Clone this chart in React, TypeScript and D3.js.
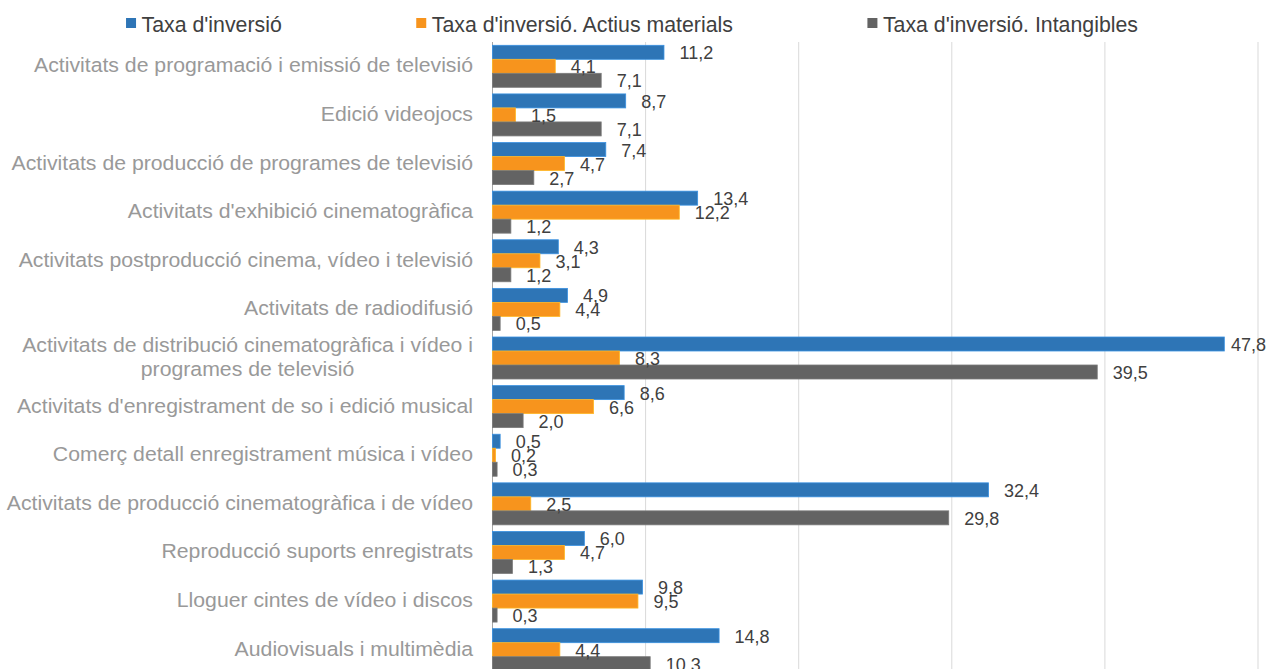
import React, { useEffect, useRef } from 'react';
import * as d3 from 'd3';

const categories = [
  'Activitats de programació i emissió de televisió',
  'Edició videojocs',
  'Activitats de producció de programes de televisió',
  "Activitats d'exhibició cinematogràfica",
  'Activitats postproducció cinema, vídeo i televisió',
  'Activitats de radiodifusió',
  'Activitats de distribució cinematogràfica i vídeo i\nprogrames de televisió',
  "Activitats d'enregistrament de so i edició musical",
  'Comerç detall enregistrament música i vídeo',
  'Activitats de producció cinematogràfica i de vídeo',
  'Reproducció suports enregistrats',
  'Lloguer cintes de vídeo i discos',
  'Audiovisuals i multimèdia',
];

const series = [
  "Taxa d'inversió",
  "Taxa d'inversió. Actius materials",
  "Taxa d'inversió. Intangibles",
];

const totalRate = [11.2, 8.7, 7.4, 13.4, 4.3, 4.9, 47.8, 8.6, 0.5, 32.4, 6.0, 9.8, 14.8];
const tangibleRate = [4.1, 1.5, 4.7, 12.2, 3.1, 4.4, 8.3, 6.6, 0.2, 2.5, 4.7, 9.5, 4.4];
const intangibleRate = [7.1, 7.1, 2.7, 1.2, 1.2, 0.5, 39.5, 2.0, 0.3, 29.8, 1.3, 0.3, 10.3];

const ticks = [0, 10, 20, 30, 40, 50];
const colors = ['#2E75B6', '#F7941D', '#636363'];

const dims = {
  width: 1277,
  height: 669,
  plotLeft: 492.5,
  plotRight: 1258,
  plotTop: 42,
  plotBottom: 674,
  labelRight: 473,
  valueLabelMax: 1266,
};

const font = "'Liberation Sans', Arial, sans-serif";

const App: React.FC = () => {
  const svgRef = useRef<SVGSVGElement | null>(null);

  useEffect(() => {
    const svg = d3.select(svgRef.current);
    svg.selectAll('*').remove();

    const x = d3.scaleLinear().domain([0, 50]).range([dims.plotLeft, dims.plotRight]);
    const y0 = d3.scaleBand()
      .domain(categories)
      .range([dims.plotTop, dims.plotBottom])
      .paddingInner(0.136)
      .paddingOuter(0.068);
    const y1 = d3.scaleBand().domain(series).range([0, y0.bandwidth()]);

    // gridlines
    svg.append('g')
      .selectAll('line')
      .data(ticks.slice(1))
      .join('line')
      .attr('x1', d => x(d))
      .attr('x2', d => x(d))
      .attr('y1', dims.plotTop)
      .attr('y2', dims.height)
      .attr('stroke', '#D9D9D9')
      .attr('stroke-width', 1);

    svg.append('line')
      .attr('x1', x(0))
      .attr('x2', x(0))
      .attr('y1', dims.plotTop)
      .attr('y2', dims.height)
      .attr('stroke', '#A6A6A6')
      .attr('stroke-width', 1);

    const rows = categories.map((c, i) => ({
      c,
      values: [totalRate[i], tangibleRate[i], intangibleRate[i]],
    }));

    const groups = svg.append('g')
      .selectAll('g')
      .data(rows)
      .join('g')
      .attr('transform', d => `translate(0,${y0(d.c)})`);

    groups.selectAll('rect')
      .data(d => d.values.map((v, j) => ({ v, j, s: series[j] })))
      .join('rect')
      .attr('x', x(0))
      .attr('y', d => y1(d.s)!)
      .attr('width', d => x(d.v) - x(0))
      .attr('height', y1.bandwidth())
      .attr('fill', d => colors[d.j])
      .attr('stroke', d => d3.color(colors[d.j])!.brighter(0.6).formatHex())
      .attr('stroke-width', 0.8);

    // value labels
    groups.selectAll('text')
      .data(d => d.values.map((v, j) => ({ v, j, s: series[j] })))
      .join('text')
      .attr('y', d => y1(d.s)! + y1.bandwidth() / 2 + 7)
      .attr('font-family', font)
      .attr('font-size', 18)
      .attr('fill', '#404040')
      .text(d => d.v.toFixed(1).replace('.', ','))
      .each(function (d) {
        const w = (this as SVGTextElement).getComputedTextLength();
        d3.select(this).attr('x', Math.min(x(d.v) + 15.5, dims.valueLabelMax - w));
      });

    // category labels (slightly stretched horizontally like the source)
    const lineH = 24.3;
    const stretch = 1.09;
    svg.append('g')
      .selectAll('g')
      .data(categories)
      .join('g')
      .attr('transform', c => `translate(${dims.labelRight},${y0(c)! + y0.bandwidth() / 2}) scale(${stretch},1)`)
      .append('text')
      .attr('font-family', font)
      .attr('font-size', 19.5)
      .attr('fill', '#999999')
      .each(function (c) {
        const t = d3.select(this);
        const lines = c.split('\n');
        const spans = lines.map((ln, i) =>
          t.append('tspan')
            .attr('y', 6 + (i - (lines.length - 1) / 2) * lineH)
            .text(ln)
        );
        if (lines.length === 1) {
          t.attr('text-anchor', 'end');
          spans[0].attr('x', 0);
        } else {
          const widths = spans.map(s => (s.node() as SVGTSpanElement).getComputedTextLength());
          t.attr('text-anchor', 'middle');
          spans.forEach(s => s.attr('x', -d3.max(widths)! / 2));
        }
      });

    // legend
    const legend = svg.append('g');
    const items = legend.selectAll('g')
      .data(series)
      .join('g');
    items.append('rect')
      .attr('width', 10)
      .attr('height', 10)
      .attr('y', 18)
      .attr('fill', (_, i) => colors[i]);
    items.append('text')
      .attr('x', 15.5)
      .attr('y', 31.5)
      .attr('font-family', font)
      .attr('font-size', 21.3)
      .attr('fill', '#404040')
      .text(d => d);
    const gap = 134.5;
    const itemW: number[] = [];
    items.each(function () {
      itemW.push(15.5 + ((this as SVGGElement).querySelector('text') as SVGTextElement).getComputedTextLength());
    });
    const total = d3.sum(itemW) + gap * (itemW.length - 1);
    let cursor = 632 - total / 2;
    items.attr('transform', (_, i) => {
      const tx = cursor;
      cursor += itemW[i] + gap;
      return `translate(${tx},0)`;
    });
  }, []);

  return (
    <div style={{ position: 'absolute', left: 0, top: 0 }}>
      <svg ref={svgRef} width={dims.width} height={dims.height} style={{ display: 'block', background: '#fff' }} />
    </div>
  );
};

export default App;
